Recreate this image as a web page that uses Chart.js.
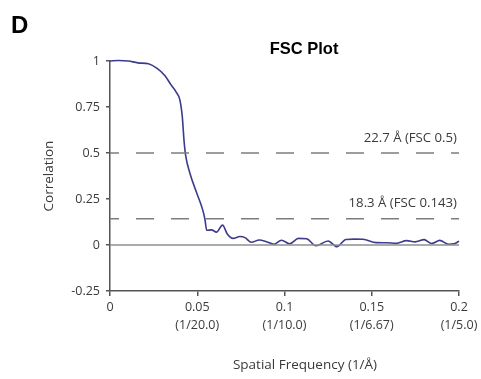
<!DOCTYPE html>
<html>
<head>
<meta charset="utf-8">
<script src="https://cdn.jsdelivr.net/npm/chart.js@4"></script>
<style>
  html, body { margin: 0; padding: 0; background: #fff; }
  #wrap { width: 481px; height: 379px; }
</style>
</head>
<body>
<div id="wrap"><canvas id="fscChart" width="481" height="379"></canvas></div>
<script>
// FSC curve
const freq = [0, 0.005, 0.0105, 0.016, 0.022, 0.027, 0.0315, 0.035, 0.038, 0.040,
  0.0414, 0.0424, 0.0433, 0.0458, 0.0496, 0.053, 0.0544, 0.0554, 0.0582, 0.061,
  0.0645, 0.0672, 0.0705, 0.0745, 0.0774, 0.081, 0.0855, 0.0897, 0.094, 0.0983,
  0.103, 0.108, 0.1127, 0.118, 0.125, 0.130, 0.1352, 0.140, 0.145, 0.1525,
  0.1585, 0.164, 0.170, 0.1748, 0.180, 0.1843, 0.189, 0.194, 0.1977, 0.200];
const fsc = [1.0, 1.003, 1.0, 0.99, 0.985, 0.96, 0.92, 0.87, 0.83, 0.79,
  0.70, 0.57, 0.49, 0.39, 0.285, 0.195, 0.14, 0.08, 0.082, 0.07,
  0.108, 0.06, 0.036, 0.046, 0.04, 0.015, 0.027, 0.018, 0.004, 0.026,
  0.007, 0.036, 0.034, -0.004, 0.022, -0.009, 0.03, 0.032, 0.031, 0.013,
  0.012, 0.009, 0.024, 0.017, 0.029, 0.008, 0.025, 0.004, 0.008, 0.021];

// thresholds and their labels
const cutoffs = [0.5, 0.143];
const cutoffLabels = ['22.7 Å (FSC 0.5)', '18.3 Å (FSC 0.143)'];

// axis ticks
const xTicks = [0, 0.05, 0.1, 0.15, 0.2];
const xTickResolution = ['', '(1/20.0)', '(1/10.0)', '(1/6.67)', '(1/5.0)'];
const yTicks = [-0.25, 0, 0.25, 0.5, 0.75, 1];
const xRange = [0, 0.2];
const yRange = [-0.25, 1];

const sansFont = "'Open Sans', 'DejaVu Sans', sans-serif";
const textColor = '#3a3a3a';

const points = freq.map((f, i) => ({ x: f, y: fsc[i] }));
const flatLine = (y) => [{ x: xRange[0], y: y }, { x: xRange[1], y: y }];

// Panel letter, titles and cutoff labels
const annotations = {
  id: 'annotations',
  afterDraw(chart) {
    const c = chart.ctx;
    const area = chart.chartArea;
    const yScale = chart.scales.y;
    c.save();
    c.fillStyle = '#000';
    c.font = "bold 24px 'Liberation Sans', Arial, sans-serif";
    c.textAlign = 'left';
    c.textBaseline = 'alphabetic';
    c.fillText('D', 11, 33);

    c.font = "bold 16.5px 'Liberation Sans', Arial, sans-serif";
    c.textAlign = 'center';
    c.fillText('FSC Plot', 304, 54);

    c.fillStyle = textColor;
    c.font = '13.5px ' + sansFont;
    c.textBaseline = 'middle';
    c.fillText('Spatial Frequency (1/Å)', 305, 365);

    c.font = '13.2px ' + sansFont;
    c.textAlign = 'right';
    cutoffs.forEach((v, i) => {
      c.fillText(cutoffLabels[i], area.right - 2, yScale.getPixelForValue(v) - 15);
    });
    c.restore();
  }
};

new Chart(document.getElementById('fscChart').getContext('2d'), {
  type: 'line',
  data: {
    datasets: [
      {
        label: 'zero',
        data: flatLine(0),
        borderColor: '#8f8f8f',
        borderWidth: 1.5,
        pointRadius: 0
      },
      {
        label: 'FSC 0.5',
        data: flatLine(cutoffs[0]),
        borderColor: '#7d7d7d',
        borderWidth: 1.5,
        borderDash: [18, 17],
        borderDashOffset: 9,
        pointRadius: 0
      },
      {
        label: 'FSC 0.143',
        data: flatLine(cutoffs[1]),
        borderColor: '#7d7d7d',
        borderWidth: 1.5,
        borderDash: [18, 17],
        borderDashOffset: 9,
        pointRadius: 0
      },
      {
        label: 'FSC',
        data: points,
        borderColor: '#3d3b8c',
        borderWidth: 1.6,
        cubicInterpolationMode: 'monotone',
        pointRadius: 0,
        clip: false
      }
    ]
  },
  options: {
    responsive: false,
    animation: false,
    layout: { padding: { left: 40, right: 22, top: 61, bottom: 0 } },
    plugins: {
      legend: { display: false },
      tooltip: { enabled: false }
    },
    scales: {
      x: {
        type: 'linear',
        min: xRange[0],
        max: xRange[1],
        afterFit: (scale) => { scale.height = 88; },
        afterBuildTicks: (scale) => { scale.ticks = xTicks.map(v => ({ value: v })); },
        border: { color: '#555', width: 1.5 },
        grid: { drawOnChartArea: false, drawTicks: true, tickLength: 5, color: '#555', lineWidth: 1.5 },
        ticks: {
          padding: 2,
          maxRotation: 0,
          color: textColor,
          font: { family: sansFont, size: 12.5, lineHeight: 1.45 },
          callback: (v) => {
            const i = xTicks.indexOf(v);
            return xTickResolution[i] ? [String(v), xTickResolution[i]] : String(v);
          }
        }
      },
      y: {
        min: yRange[0],
        max: yRange[1],
        afterFit: (scale) => { scale.width = 70; },
        afterBuildTicks: (scale) => { scale.ticks = yTicks.map(v => ({ value: v })); },
        border: { color: '#555', width: 1.5 },
        grid: { drawOnChartArea: false, drawTicks: true, tickLength: 4, color: '#555', lineWidth: 1.5 },
        ticks: {
          padding: 6,
          color: textColor,
          font: { family: sansFont, size: 12.5 },
          callback: (v) => String(v)
        },
        title: {
          display: true,
          text: 'Correlation',
          color: textColor,
          font: { family: sansFont, size: 13.5 },
          padding: { top: 1, bottom: 0 }
        }
      }
    }
  },
  plugins: [annotations]
});
</script>
</body>
</html>
